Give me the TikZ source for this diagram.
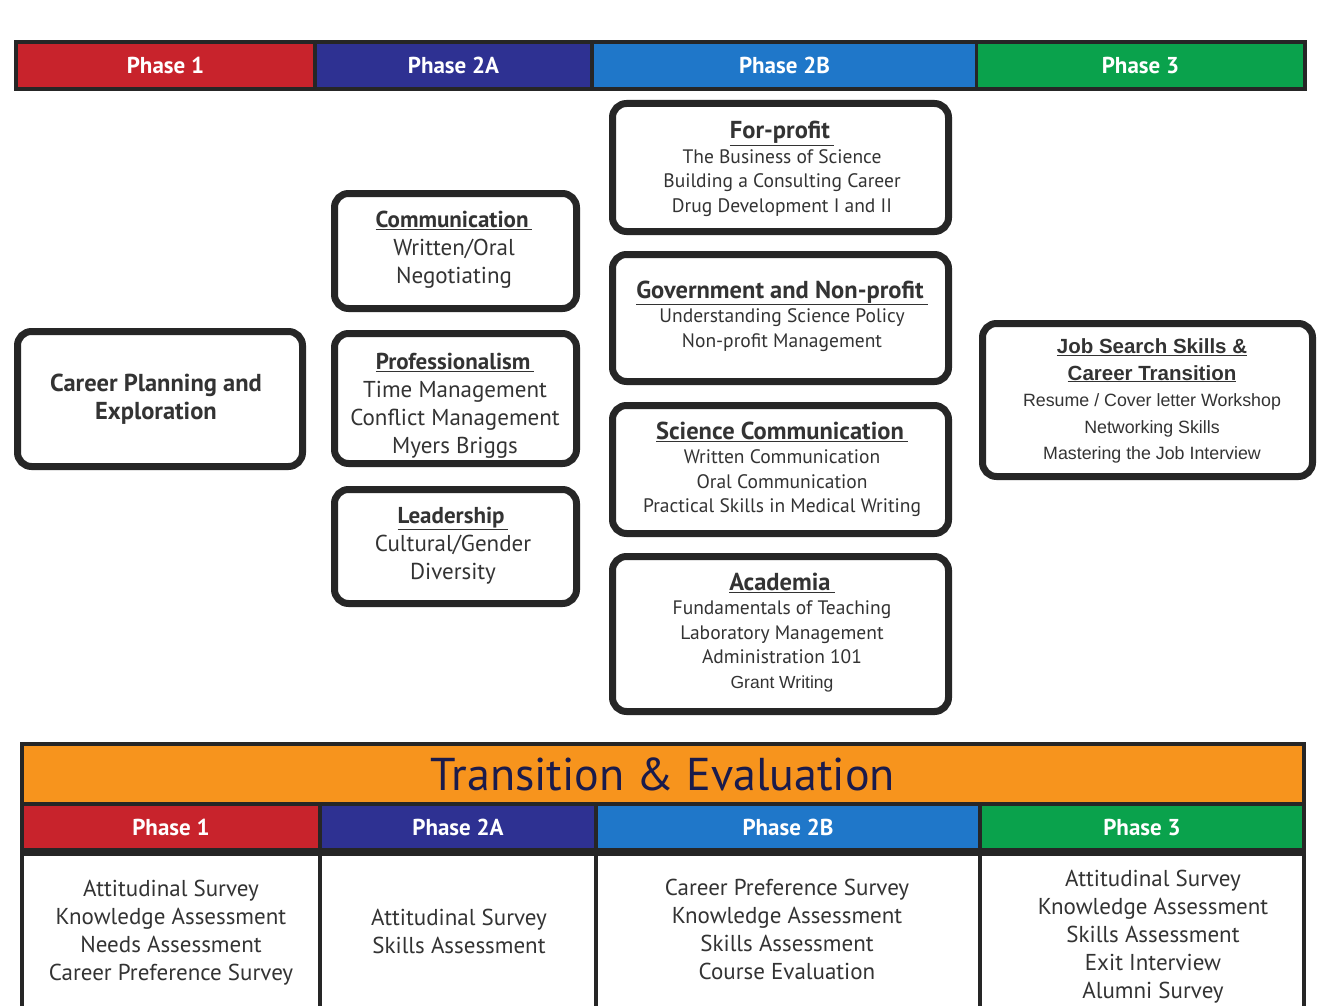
\documentclass[tikz,border=0pt]{standalone}
\usepackage{fontspec}
\setmainfont{PT Sans}
\newfontfamily\arialf{Liberation Sans}
\definecolor{pred}{HTML}{C8232C}
\definecolor{pnavy}{HTML}{2E3192}
\definecolor{pblue}{HTML}{1F77C9}
\definecolor{pgreen}{HTML}{0AA24C}
\definecolor{porange}{HTML}{F7941D}
\definecolor{frame}{HTML}{262626}
\definecolor{txt}{HTML}{333333}
\definecolor{ttl}{HTML}{1B1B4B}
\newcommand{\hd}[1]{\underline{\textbf{#1}\,}}
\newcommand{\hdb}[1]{\underline{\fontsize{24.5}{24.5}\selectfont\textbf{#1}\,}}
\tikzset{
  box/.style={draw=frame, line width=7pt, rounded corners=14pt, fill=white, inner sep=0pt},
  btxt/.style={inner sep=0pt, align=center, text=txt},
  phase/.style={inner sep=0pt, text=white, font=\bfseries\fontsize{23}{24}\selectfont},
  cell/.style={fill=white, inner sep=0pt},
  big/.style={font=\fontsize{23}{28}\selectfont},
  small/.style={font=\fontsize{19.5}{24.5}\selectfont},
}
\begin{document}
\begin{tikzpicture}[x=1pt,y=-1pt]
\useasboundingbox[fill=white] (0,0) rectangle (1317,1006);
% top phase bar
\fill[frame] (14,40) rectangle (1307,91);
\node[phase, fill=pred, minimum width=295pt, minimum height=43pt] (p1) at (165.5,65.5) {Phase 1};
\node[phase, fill=pnavy, minimum width=273pt, minimum height=43pt] (p2a) at (453.5,65.5) {Phase 2A};
\node[phase, fill=pblue, minimum width=381pt, minimum height=43pt] (p2b) at (784.5,65.5) {Phase 2B};
\node[phase, fill=pgreen, minimum width=325pt, minimum height=43pt] (p3) at (1140.5,65.5) {Phase 3};
% boxes
\node[box, minimum width=285pt, minimum height=135pt] (career) at (160,399) {};
\node[box, minimum width=242pt, minimum height=115pt] (comm) at (455.5,251) {};
\node[box, minimum width=242pt, minimum height=130pt] (prof) at (455.5,398.5) {};
\node[box, minimum width=242pt, minimum height=114pt] (lead) at (455.5,546.5) {};
\node[box, minimum width=336pt, minimum height=128pt] (forp) at (780.5,167.5) {};
\node[box, minimum width=336pt, minimum height=127pt] (gov) at (780.5,318) {};
\node[box, minimum width=336pt, minimum height=128pt] (scic) at (780.5,469.5) {};
\node[box, minimum width=336pt, minimum height=155pt] (acad) at (780.5,634) {};
\node[box, minimum width=330pt, minimum height=153pt] (job) at (1147.5,400) {};
% texts
\node[btxt, font=\bfseries\fontsize{24.5}{28}\selectfont] (career-t) at (156,399)
  {Career Planning and\\Exploration};
\node[btxt, big] (comm-t) at (454,249.5)
  {\hd{Communication}\\Written/Oral\\Negotiating};
\node[btxt, big] (prof-t) at (455,406)
  {\hd{Professionalism}\\Time Management\\Conflict Management\\Myers Briggs};
\node[btxt, big] (lead-t) at (453,545.5)
  {\hd{Leadership}\\Cultural/Gender\\Diversity};
\node[btxt, small] (forp-t) at (782,169)
  {\hdb{For-profit}\\The Business of Science\\Building a Consulting Career\\Drug Development I and II};
\node[btxt, small] (gov-t) at (782,316)
  {\hdb{Government and Non-profit}\\Understanding Science Policy\\Non-profit Management};
\node[btxt, small] (scic-t) at (782,469.5)
  {\hdb{Science Communication}\\Written Communication\\Oral Communication\\Practical Skills in Medical Writing};
\node[btxt, small] (acad-t) at (782,632.5)
  {\hdb{Academia}\\Fundamentals of Teaching\\Laboratory Management\\Administration 101\\{\arialf\fontsize{17.5}{22}\selectfont Grant Writing}};
\node[btxt, font=\arialf\fontsize{17.8}{26.5}\selectfont] (job-t) at (1152,401)
  {\underline{\fontsize{20.5}{26.5}\selectfont\textbf{Job Search Skills \&}}\\\underline{\fontsize{20.5}{26.5}\selectfont\textbf{Career Transition}}\\Resume / Cover letter Workshop\\Networking Skills\\Mastering the Job Interview};
% bottom table
\fill[frame] (20,742) rectangle (1306,1006);
\node[fill=porange, inner sep=0pt, minimum width=1278pt, minimum height=56pt, text=ttl,
  font=\fontsize{46}{50}\selectfont] (trans) at (663,774) {Transition \& Evaluation};
\node[phase, fill=pred, minimum width=294pt, minimum height=42pt] (q1) at (171,827) {Phase 1};
\node[phase, fill=pnavy, minimum width=272pt, minimum height=42pt] (q2a) at (458,827) {Phase 2A};
\node[phase, fill=pblue, minimum width=380pt, minimum height=42pt] (q2b) at (788,827) {Phase 2B};
\node[phase, fill=pgreen, minimum width=320pt, minimum height=42pt] (q3) at (1142,827) {Phase 3};
\node[cell, minimum width=294pt, minimum height=150pt] (c1) at (171,931) {};
\node[cell, minimum width=272pt, minimum height=150pt] (c2a) at (458,931) {};
\node[cell, minimum width=380pt, minimum height=150pt] (c2b) at (788,931) {};
\node[cell, minimum width=320pt, minimum height=150pt] (c3) at (1142,931) {};
\node[btxt, big] (c1-t) at (171,932.5)
  {Attitudinal Survey\\Knowledge Assessment\\Needs Assessment\\Career Preference Survey};
\node[btxt, big] (c2a-t) at (459,931)
  {Attitudinal Survey\\Skills Assessment};
\node[btxt, big] (c2b-t) at (787,929)
  {Career Preference Survey\\Knowledge Assessment\\Skills Assessment\\Course Evaluation};
\node[btxt, big] (c3-t) at (1153,936.5)
  {Attitudinal Survey\\Knowledge Assessment\\Skills Assessment\\Exit Interview\\Alumni Survey};
\end{tikzpicture}
\end{document}
